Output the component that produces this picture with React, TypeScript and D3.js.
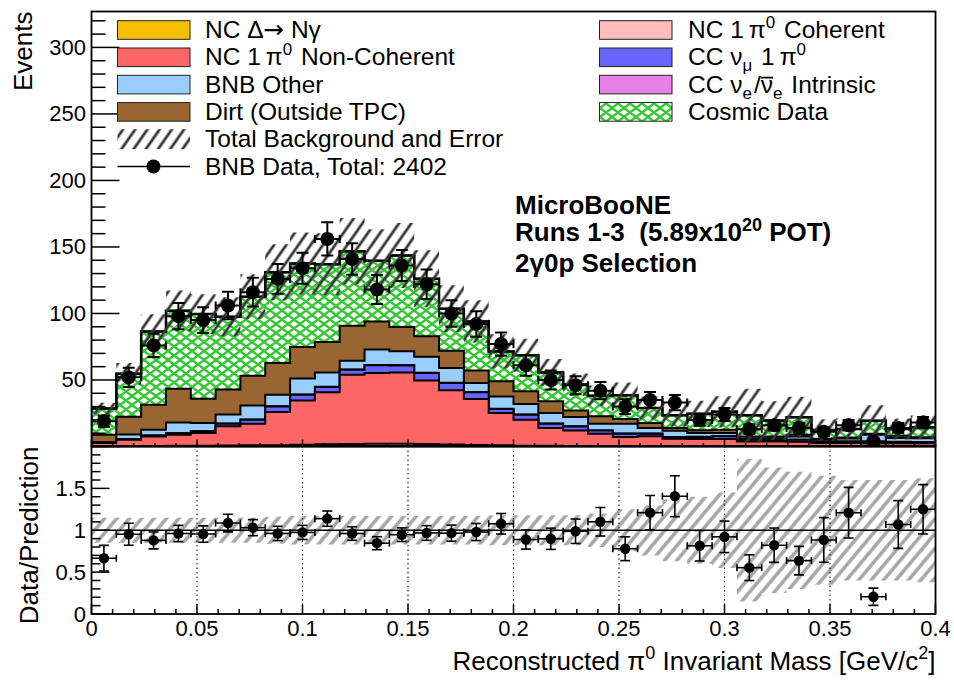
import React from "react";
import * as d3 from "d3";

// 2gamma0p selection: reconstructed pi0 mass, 34 bins from 0 to 0.4 GeV/c^2
const nBins = 34;
const xMax = 0.4;
const binEdges = d3.range(nBins + 1).map((i) => (i * xMax) / nBins);

const bnbData = [19, 52, 76, 98, 95, 106, 116, 126, 134, 156, 141, 118, 136, 122, 100, 92, 77, 61, 50, 46, 42, 30, 35, 33, 20, 24, 13, 16, 14, 11, 16, 4, 14, 18];

const ncDelta = [0.02, 0.05, 0.08, 0.1, 0.12, 0.15, 0.2, 0.22, 0.25, 0.3, 0.3, 0.3, 0.28, 0.25, 0.22, 0.2, 0.18, 0.15, 0.12, 0.1, 0.1, 0.08, 0.08, 0.06, 0.05, 0.05, 0.04, 0.04, 0.03, 0.03, 0.03, 0.02, 0.02, 0.02];
const ncCoherent = [0.1, 0.2, 0.3, 0.4, 0.5, 0.6, 0.7, 0.8, 1.0, 1.3, 1.6, 1.8, 1.8, 1.6, 1.3, 1.0, 0.7, 0.5, 0.4, 0.3, 0.25, 0.2, 0.15, 0.1, 0.1, 0.1, 0.08, 0.06, 0.05, 0.05, 0.04, 0.04, 0.03, 0.03];
const ncNonCoherent = [2.5, 4.9, 7.2, 8.4, 9.5, 14.4, 16.2, 24.9, 33.4, 39.1, 52.1, 53.1, 53.6, 47.7, 40.7, 34.5, 24.3, 19.5, 13.4, 11.7, 9.3, 6.8, 7.4, 5.7, 5.5, 5.5, 3.7, 3.7, 3.5, 2.5, 2.5, 2.4, 2.4, 2.4];
const ccNumu = [0.3, 0.5, 0.6, 1.0, 1.3, 2.0, 3.0, 4.2, 4.3, 4.0, 3.7, 5.8, 5.3, 5.7, 5.5, 5.0, 3.0, 3.8, 3.2, 3.0, 2.3, 2.5, 2.0, 1.2, 1.5, 2.0, 1.3, 1.0, 1.5, 1.0, 1.2, 0.8, 1.0, 0.8];
const ccNue = [0, 0.05, 0.1, 0.1, 0.1, 0.15, 0.15, 0.2, 0.2, 0.2, 0.25, 0.25, 0.25, 0.25, 0.2, 0.2, 0.2, 0.15, 0.15, 0.15, 0.1, 0.1, 0.1, 0.1, 0.1, 0.1, 0.08, 0.08, 0.08, 0.06, 0.06, 0.06, 0.05, 0.05];
const bnbOther = [0.3, 3.3, 4.3, 8.1, 6.1, 6.7, 10.5, 8.6, 11.9, 10.8, 6.6, 11.6, 10.3, 11.9, 11.1, 6.8, 9.3, 7.9, 8.0, 7.0, 5.1, 7.4, 4.2, 4.7, 2.9, 2.4, 0.9, 1.4, 2.4, 1.4, 2.1, 5.5, 2.8, 2.9];
const dirt = [5.7, 13.3, 18.8, 25.3, 18.3, 18.8, 22.5, 23.9, 23.8, 22.8, 26.3, 21.2, 18.3, 15.5, 13.0, 9.5, 11.3, 9.5, 8.7, 4.9, 5.5, 3.6, 3.8, 2.0, 2.0, 2.5, 1.5, 1.3, 1.3, 0.8, 0.8, 0.7, 1.7, 0.8];
const cosmicData = [19.6, 32.3, 55.1, 58.6, 63.6, 54.8, 59.3, 68.2, 62.7, 58.5, 55.9, 45.5, 53.8, 43.2, 31.6, 36.8, 22.5, 27.1, 21.7, 19.4, 15.5, 17.8, 11.2, 9.6, 12.4, 13.4, 15.9, 11.9, 13.1, 6.6, 6.5, 9.9, 5.1, 7.4];

// fractional error on the total prediction
const errFrac = [0.15, 0.15, 0.15, 0.15, 0.15, 0.15, 0.15, 0.16, 0.17, 0.17, 0.17, 0.17, 0.17, 0.17, 0.17, 0.17, 0.18, 0.18, 0.18, 0.18, 0.2, 0.25, 0.3, 0.37, 0.4, 0.45, 0.85, 0.75, 0.7, 0.65, 0.6, 0.6, 0.6, 0.62];

const mainYTicks = [50, 100, 150, 200, 250, 300];
const ratioYTicks = [0, 0.5, 1, 1.5];
const xTicks = d3.range(0, 9).map((i) => i * 0.05);
const gridLines = xTicks.slice(1, -1);

const layers = [
  { key: "delta", values: ncDelta, fill: "#f7bf00" },
  { key: "coh", values: ncCoherent, fill: "#ffbcbc" },
  { key: "ncpi0", values: ncNonCoherent, fill: "#ff6666" },
  { key: "ccnumu", values: ccNumu, fill: "#6666ff" },
  { key: "nue", values: ccNue, fill: "#e680e6" },
  { key: "other", values: bnbOther, fill: "#99ccff" },
  { key: "dirt", values: dirt, fill: "#996633" },
  { key: "cosmic", values: cosmicData, fill: "url(#cosmicHatch)" },
];

const FONT = "'Liberation Sans', Arial, Helvetica, sans-serif";
const W = 954;
const H = 683;
const LEG_FS = 24.5;
const SUB_FS = 17;

const x = d3.scaleLinear().domain([0, xMax]).range([91.5, 935.5]);
const yMain = d3.scaleLinear().domain([0, 327]).range([446.5, 11.5]);
const yRatio = d3.scaleLinear().domain([0, 2]).range([614, 446.5]);

const rows = d3.range(nBins).map((i) => {
  const r: Record<string, number> = {};
  layers.forEach((l) => (r[l.key] = l.values[i]));
  return r;
});
const stacked = d3.stack<Record<string, number>>().keys(layers.map((l) => l.key))(rows);
const totals = stacked[stacked.length - 1].map((d) => d[1]);

const line = d3.line();

function stepPoints(vals: number[], y: d3.ScaleLinear<number, number>) {
  const pts: [number, number][] = [];
  vals.forEach((v, i) => {
    pts.push([x(binEdges[i]), y(v)], [x(binEdges[i + 1]), y(v)]);
  });
  return pts;
}

function filledStep(vals: number[]) {
  return line([[x(0), yMain(0)], ...stepPoints(vals, yMain), [x(xMax), yMain(0)]]) + "Z";
}

function bandPath(lo: number[], hi: number[], y: d3.ScaleLinear<number, number>) {
  return lo
    .map((l, i) => {
      const x0 = x(binEdges[i]);
      const x1 = x(binEdges[i + 1]);
      return `M${x0},${y(hi[i])}H${x1}V${y(l)}H${x0}Z`;
    })
    .join("");
}

const centers = d3.range(nBins).map((i) => (binEdges[i] + binEdges[i + 1]) / 2);
const ratio = bnbData.map((d, i) => d / totals[i]);
const ratioErr = bnbData.map((d, i) => Math.sqrt(d) / totals[i]);

// text width helper (for the anti-neutrino bar)
let ctx: CanvasRenderingContext2D | null = null;
function textWidth(s: string, size: number) {
  if (!ctx) ctx = document.createElement("canvas").getContext("2d");
  if (!ctx) return s.length * size * 0.5;
  ctx.font = `${size}px 'Liberation Sans'`;
  return ctx.measureText(s).width;
}

// one data point with x/y error bars and caps
const DataPoint = ({ i, yv, err, y, r, capV, capH, sw }: any) => {
  const cx = x(centers[i]);
  const cy = y(yv);
  const x0 = x(binEdges[i]);
  const x1 = x(binEdges[i + 1]);
  const yt = y(yv + err);
  const yb = y(Math.max(yv - err, y.domain()[0]));
  return (
    <g stroke="black" strokeWidth={sw}>
      <line x1={x0} x2={x1} y1={cy} y2={cy} />
      <line x1={x0} x2={x0} y1={cy - capH} y2={cy + capH} />
      <line x1={x1} x2={x1} y1={cy - capH} y2={cy + capH} />
      <line x1={cx} x2={cx} y1={yt} y2={yb} />
      <line x1={cx - capV} x2={cx + capV} y1={yt} y2={yt} />
      <line x1={cx - capV} x2={cx + capV} y1={yb} y2={yb} />
      <circle cx={cx} cy={cy} r={r} fill="black" stroke="none" />
    </g>
  );
};

const Sup = ({ children }: any) => (
  <>
    <tspan dy={-10} fontSize={SUB_FS}>
      {children}
    </tspan>
    <tspan dy={10}>{"\u200a"}</tspan>
  </>
);

const Sub = ({ children }: any) => (
  <>
    <tspan dy={6} fontSize={SUB_FS}>
      {children}
    </tspan>
    <tspan dy={-6}>{"\u200a"}</tspan>
  </>
);

const legendLeft: { label: React.ReactNode; fill?: string; kind: string }[] = [
  {
    label: (
      <>
        NC Δ<tspan fontFamily="'DejaVu Sans'">{"\u2192"}</tspan> Nγ
      </>
    ),
    fill: "#f7bf00",
    kind: "box",
  },
  { label: <>NC 1{"\u2009"}π<Sup>0</Sup> Non-Coherent</>, fill: "#ff6666", kind: "box" },
  { label: "BNB Other", fill: "#99ccff", kind: "box" },
  { label: "Dirt (Outside TPC)", fill: "#996633", kind: "box" },
  { label: "Total Background and Error", kind: "hatch" },
  { label: "BNB Data, Total: 2402", kind: "data" },
];

const legendRight: { label: React.ReactNode; fill: string }[] = [
  { label: <>NC 1{"\u2009"}π<Sup>0</Sup> Coherent</>, fill: "#ffbcbc" },
  { label: <>CC ν<Sub>μ</Sub> 1{"\u2009"}π<Sup>0</Sup></>, fill: "#6666ff" },
  {
    label: (
      <>
        CC ν<Sub>e</Sub>/ν<Sub>e</Sub> Intrinsic
      </>
    ),
    fill: "#e680e6",
  },
  { label: "Cosmic Data", fill: "url(#cosmicHatch)" },
];

const legendRowY = (k: number) => 30 + k * 27.3;
const LEG_RIGHT_TEXT_X = 688;

export default function App() {
  const fmt = d3.format("~g");
  const mainMinor = d3.range(0, 327, 10);
  const ratioMinor = d3.range(0, 21).map((i) => i / 10);
  const xMinor = d3.range(0, 41).map((i) => i / 100);

  const cw = 12;
  const ch = 9;
  const cosmicLines: string[] = [];
  [-1, 0, 1].forEach((ox) =>
    [-1, 0, 1].forEach((oy) => {
      const dx = ox * cw;
      const dy = oy * ch;
      cosmicLines.push(`M${dx},${dy}L${dx + cw},${dy + ch}M${dx},${dy + ch}L${dx + cw},${dy}`);
    })
  );

  // position of the bar over the second nu in "CC nu_e / nubar_e"
  const barX0 =
    LEG_RIGHT_TEXT_X +
    textWidth("CC \u03bd", LEG_FS) +
    textWidth("e", SUB_FS) +
    textWidth("\u200a/", LEG_FS);
  const barX1 = barX0 + textWidth("\u03bd", LEG_FS);
  const barY = legendRowY(2) + 8 - 15;

  return (
    <svg
      width={W}
      height={H}
      style={{ position: "absolute", left: 0, top: 0, background: "white" }}
      fontFamily={FONT}
    >
      <defs>
        <pattern id="cosmicHatch" patternUnits="userSpaceOnUse" width={cw} height={ch}>
          <rect width={cw} height={ch} fill="white" />
          <path d={cosmicLines.join("")} stroke="#2fc92f" strokeWidth={2.3} fill="none" />
        </pattern>
        <pattern id="bandHatch" patternUnits="userSpaceOnUse" width={10} height={10} patternTransform="rotate(35)">
          <line x1={5} x2={5} y1={0} y2={10} stroke="#363636" strokeWidth={2.8} />
        </pattern>
        <pattern id="ratioHatch" patternUnits="userSpaceOnUse" width={9.5} height={9.5} patternTransform="rotate(40)">
          <line x1={4.75} x2={4.75} y1={0} y2={9.5} stroke="#a6a6a6" strokeWidth={3.5} />
        </pattern>
        <clipPath id="mainClip">
          <rect x={91.5} y={11.5} width={844} height={435} />
        </clipPath>
        <clipPath id="ratioClip">
          <rect x={91.5} y={446.5} width={844} height={167.5} />
        </clipPath>
      </defs>

      <rect width={W} height={H} fill="white" />

      {/* main panel */}
      <g clipPath="url(#mainClip)">
        {[...stacked].reverse().map((s, k) => {
          const layer = layers[layers.length - 1 - k];
          const tops = s.map((d) => d[1]);
          return (
            <path
              key={layer.key}
              d={filledStep(tops)}
              fill={layer.fill}
              stroke="black"
              strokeWidth={2}
              strokeLinejoin="miter"
            />
          );
        })}
        <path d={line(stepPoints(totals, yMain)) as string} fill="none" stroke="black" strokeWidth={2.5} />
        <path
          d={bandPath(
            totals.map((t, i) => t * (1 - errFrac[i])),
            totals.map((t, i) => t * (1 + errFrac[i])),
            yMain
          )}
          fill="url(#bandHatch)"
        />
        {bnbData.map((d, i) => (
          <DataPoint key={i} i={i} yv={d} err={Math.sqrt(d)} y={yMain} r={7} capV={6} capH={4} sw={2} />
        ))}
      </g>

      {/* main axes */}
      <g stroke="black" strokeWidth={1.5}>
        {mainMinor.map((v) => (
          <line key={"mm" + v} x1={x(0)} x2={x(0) + (v % 50 === 0 ? 28 : 14)} y1={yMain(v)} y2={yMain(v)} />
        ))}
        {xMinor.map((v, i) => (
          <line key={"mx" + i} x1={x(v)} x2={x(v)} y1={yMain(0)} y2={yMain(0) - (i % 5 === 0 ? 7 : 3.5)} />
        ))}
        <rect x={91.5} y={11.5} width={844} height={435} fill="none" strokeWidth={1.8} />
      </g>
      <g fontSize={22} textAnchor="end" dominantBaseline="central">
        {mainYTicks.map((v) => (
          <text key={v} x={86} y={yMain(v)}>
            {v}
          </text>
        ))}
      </g>
      <text transform={`translate(31.5,11.5) rotate(-90)`} fontSize={26} textAnchor="end">
        Events
      </text>

      {/* legend */}
      <g fontSize={LEG_FS}>
        {legendLeft.map((e, k) => {
          const cy = legendRowY(k);
          return (
            <g key={k}>
              {e.kind === "box" && (
                <rect x={117.5} y={cy - 9.3} width={72.5} height={18.6} fill={e.fill} stroke="#222" strokeWidth={1} />
              )}
              {e.kind === "hatch" && <rect x={117.5} y={cy - 10} width={72.5} height={20} fill="url(#bandHatch)" />}
              {e.kind === "data" && (
                <g>
                  <line x1={117.5} x2={190} y1={cy} y2={cy} stroke="black" strokeWidth={1.5} />
                  <circle cx={153.5} cy={cy} r={7} fill="black" />
                </g>
              )}
              <text x={205} y={cy + 8}>
                {e.label}
              </text>
            </g>
          );
        })}
        {legendRight.map((e, k) => {
          const cy = legendRowY(k);
          return (
            <g key={"r" + k}>
              <rect x={599.5} y={cy - 9.3} width={72.5} height={18.6} fill={e.fill} stroke="#222" strokeWidth={1} />
              <text x={LEG_RIGHT_TEXT_X} y={cy + 8}>
                {e.label}
              </text>
            </g>
          );
        })}
        <line x1={barX0} x2={barX1} y1={barY} y2={barY} stroke="black" strokeWidth={1.8} />
      </g>

      {/* experiment label */}
      <g fontSize={26} fontWeight="bold">
        <text x={515} y={214}>
          MicroBooNE
        </text>
        <text x={515} y={241}>
          {"Runs 1-3 \u00a0(5.89x10"}
          <tspan dy={-10} fontSize={18}>
            20
          </tspan>
          <tspan dy={10}> POT)</tspan>
        </text>
        <text x={515} y={272}>
          2γ0p Selection
        </text>
      </g>

      {/* ratio panel */}
      <g clipPath="url(#ratioClip)">
        <path
          d={bandPath(
            errFrac.map((e) => 1 - e),
            errFrac.map((e) => 1 + e),
            yRatio
          )}
          fill="url(#ratioHatch)"
        />
        {gridLines.map((v) => (
          <line
            key={"g" + v}
            x1={x(v)}
            x2={x(v)}
            y1={yRatio(0)}
            y2={yRatio(2)}
            stroke="black"
            strokeWidth={1}
            strokeDasharray="1.5,3"
          />
        ))}
        <line x1={x(0)} x2={x(xMax)} y1={yRatio(1)} y2={yRatio(1)} stroke="black" strokeWidth={1.5} />
        {ratio.map((r, i) => (
          <DataPoint key={i} i={i} yv={r} err={ratioErr[i]} y={yRatio} r={5.2} capV={5} capH={3.5} sw={1.6} />
        ))}
      </g>
      <g stroke="black" strokeWidth={1.5}>
        {ratioMinor.map((v, i) => (
          <line key={"rm" + i} x1={x(0)} x2={x(0) + (i % 5 === 0 ? 18 : 9)} y1={yRatio(v)} y2={yRatio(v)} />
        ))}
        {xMinor.map((v, i) => (
          <line key={"rx" + i} x1={x(v)} x2={x(v)} y1={yRatio(0)} y2={yRatio(0) - (i % 5 === 0 ? 10 : 5)} />
        ))}
        <rect x={91.5} y={446.5} width={844} height={167.5} fill="none" strokeWidth={1.8} />
      </g>
      <g fontSize={22} textAnchor="end" dominantBaseline="central">
        {ratioYTicks.map((v) => (
          <text key={v} x={86} y={yRatio(v)}>
            {fmt(v)}
          </text>
        ))}
      </g>
      <g fontSize={22} textAnchor="middle">
        {xTicks.map((v, i) => (
          <text key={i} x={x(v)} y={636}>
            {fmt(v)}
          </text>
        ))}
      </g>
      <text transform={`translate(38,446.5) rotate(-90)`} fontSize={26} textAnchor="end">
        Data/Prediction
      </text>
      <text x={935.5} y={670} fontSize={26} textAnchor="end">
        Reconstructed π
        <tspan dy={-11} fontSize={18}>
          0
        </tspan>
        <tspan dy={11}> Invariant Mass [GeV/c</tspan>
        <tspan dy={-11} fontSize={18}>
          2
        </tspan>
        <tspan dy={11}>]</tspan>
      </text>
    </svg>
  );
}
